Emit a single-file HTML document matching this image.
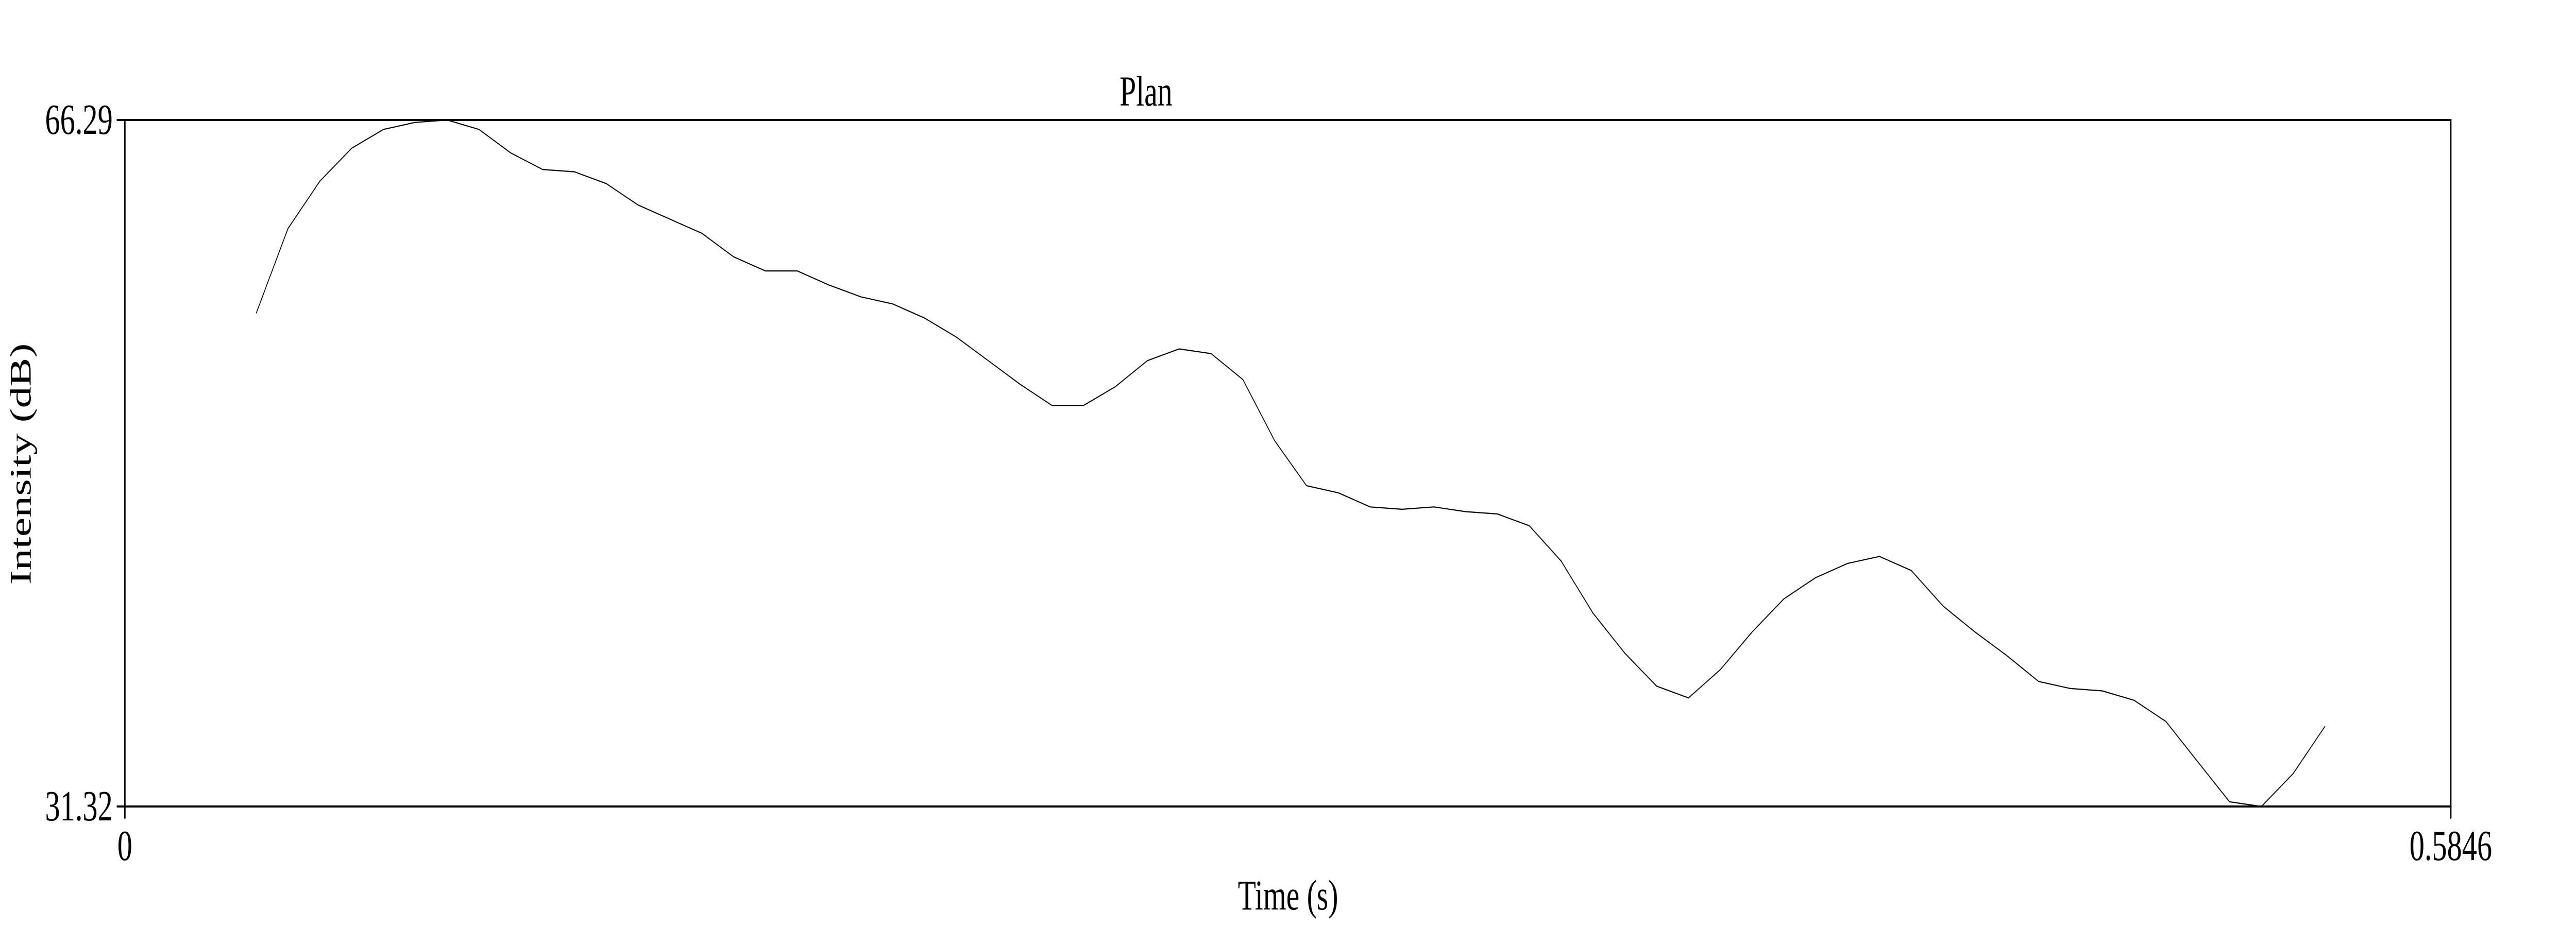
<!DOCTYPE html>
<html><head><meta charset="utf-8"><style>
html,body{margin:0;padding:0;background:#fff;width:100%;height:100%;overflow:hidden;}
svg{display:block;font-family:"Liberation Serif",serif;width:100vw;height:100vh;}
</style></head><body>
<svg id="chart" viewBox="0 0 7200 1800" preserveAspectRatio="none" xmlns="http://www.w3.org/2000/svg">
<rect x="0" y="0" width="7200" height="1800" fill="#fff"/>
<text x="3203" y="205" font-size="83" text-anchor="middle">Plan</text>
<text transform="translate(86,901) rotate(-90)" font-size="84" text-anchor="middle">Intensity (dB)</text>
<text x="3600" y="1766" font-size="83" text-anchor="middle">Time (s)</text>
<g id="axes"></g>
<g id="series"></g>
</svg>
<script>
const times = [0.033,0.041,0.049,0.057,0.065,0.073,0.081,0.089,0.097,0.105,0.113,0.121,0.129,0.137,0.145,0.153,0.161,0.169,0.177,0.185,0.193,0.201,0.209,0.217,0.225,0.233,0.241,0.249,0.257,0.265,0.273,0.281,0.289,0.297,0.305,0.313,0.321,0.329,0.337,0.345,0.353,0.361,0.369,0.377,0.385,0.393,0.401,0.409,0.417,0.425,0.433,0.441,0.449,0.457,0.465,0.473,0.481,0.489,0.497,0.505,0.513,0.521,0.529,0.537,0.545,0.553];
const intensity = [56.44,60.76,63.17,64.85,65.81,66.17,66.29,65.81,64.61,63.77,63.65,63.05,61.96,61.24,60.52,59.32,58.60,58.60,57.88,57.28,56.92,56.20,55.23,54.03,52.83,51.75,51.75,52.71,54.03,54.63,54.39,53.07,49.95,47.66,47.30,46.58,46.46,46.58,46.34,46.22,45.62,43.82,41.17,39.13,37.45,36.85,38.29,40.21,41.90,42.98,43.70,44.06,43.34,41.53,40.21,39.01,37.69,37.33,37.21,36.73,35.65,33.60,31.56,31.32,33.00,35.41];
const xDomain = [0, 0.5846];
const yDomain = [31.32, 66.29];
const xTickLabels = ["0", "0.5846"];
const yTickLabels = ["31.32", "66.29"];

const L = 349, R = 6850, T = 233, B = 1566;
function xs(v){ return L + (v - xDomain[0]) / (xDomain[1] - xDomain[0]) * (R - L); }
function ys(v){ return B - (v - yDomain[0]) / (yDomain[1] - yDomain[0]) * (B - T); }
const NS = "http://www.w3.org/2000/svg";
const axes = document.getElementById('axes');
const series = document.getElementById('series');

const frame = document.createElementNS(NS, 'rect');
frame.setAttribute('x', L); frame.setAttribute('y', T);
frame.setAttribute('width', R - L); frame.setAttribute('height', B - T);
frame.setAttribute('fill', 'none'); frame.setAttribute('stroke', '#000'); frame.setAttribute('stroke-width', '4');


axes.appendChild(frame);

[yDomain[0], yDomain[1]].forEach((v, i) => {
  const y = ys(v);
  const tk = document.createElementNS(NS, 'line');
  tk.setAttribute('x1', L - 21); tk.setAttribute('x2', L); tk.setAttribute('y1', y); tk.setAttribute('y2', y);
  tk.setAttribute('stroke', '#000'); tk.setAttribute('stroke-width', '4'); tk.setAttribute('stroke-linecap', 'round');
  
  
  axes.appendChild(tk);
  const t = document.createElementNS(NS, 'text');
  t.setAttribute('x', 315); t.setAttribute('y', y + 27);
  t.setAttribute('font-size', '84'); t.setAttribute('text-anchor', 'end');
  t.textContent = yTickLabels[i];
  
  
  axes.appendChild(t);
});

[xDomain[0], xDomain[1]].forEach((v, i) => {
  const x = xs(v);
  const tk = document.createElementNS(NS, 'line');
  tk.setAttribute('x1', x); tk.setAttribute('x2', x); tk.setAttribute('y1', B); tk.setAttribute('y2', B + 22);
  tk.setAttribute('stroke', '#000'); tk.setAttribute('stroke-width', '4'); tk.setAttribute('stroke-linecap', 'round');
  
  
  axes.appendChild(tk);
  const t = document.createElementNS(NS, 'text');
  t.setAttribute('x', x); t.setAttribute('y', 1670);
  t.setAttribute('font-size', '84'); t.setAttribute('text-anchor', 'middle');
  t.textContent = xTickLabels[i];
  
  
  axes.appendChild(t);
});

const pts = times.map((tv, i) => xs(tv).toFixed(1) + ',' + ys(intensity[i]).toFixed(1)).join(' ');
const line = document.createElementNS(NS, 'polyline');
line.setAttribute('points', pts);
line.setAttribute('fill', 'none'); line.setAttribute('stroke', '#000'); line.setAttribute('stroke-width', '2.2');
line.setAttribute('stroke-linejoin', 'round');


series.appendChild(line);
</script>
</body></html>
